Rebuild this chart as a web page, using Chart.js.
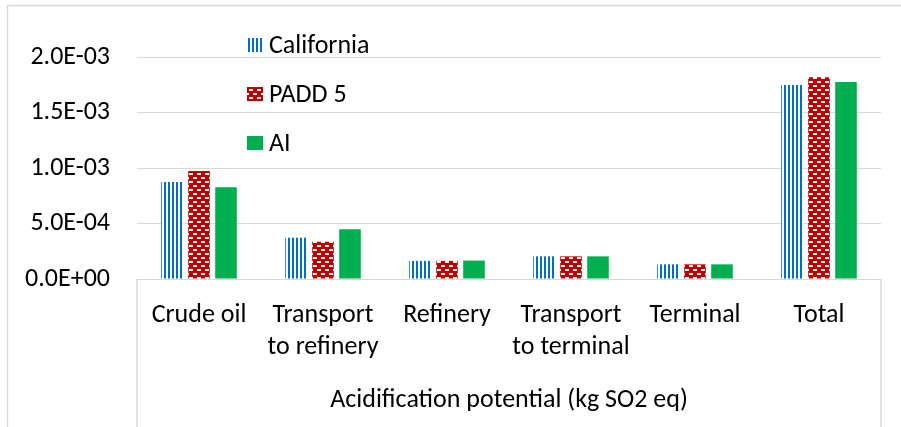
<!DOCTYPE html>
<html>
<head>
<meta charset="utf-8">
<script src="https://cdn.jsdelivr.net/npm/chart.js@4.4.1/dist/chart.umd.min.js"></script>
<style>
  html, body { margin: 0; padding: 0; background: #fff; }
  #wrap { position: relative; width: 901px; height: 427px; }
</style>
</head>
<body>
<div id="wrap"><canvas id="c" width="901" height="427"></canvas></div>
<script>
const categories = ["Crude oil", ["Transport", "to refinery"], "Refinery", ["Transport", "to terminal"], "Terminal", "Total"];
const seriesNames = ["California", "PADD 5", "AI"];
const california = [8.74e-4, 3.72e-4, 1.63e-4, 2.04e-4, 1.32e-4, 1.748e-3];
const padd5      = [9.73e-4, 3.36e-4, 1.63e-4, 2.04e-4, 1.32e-4, 1.817e-3];
const ai         = [8.26e-4, 4.48e-4, 1.66e-4, 2.04e-4, 1.32e-4, 1.775e-3];
const axisTitle = "Acidification potential (kg SO2 eq)";
const yMin = 0, yMax = 2.0e-3, yStep = 5.0e-4;

function makeStripes() {
  const c = document.createElement('canvas'); c.width = 4; c.height = 4;
  const g = c.getContext('2d');
  g.fillStyle = '#ffffff'; g.fillRect(0, 0, 4, 4);
  g.fillStyle = '#0070C0'; g.fillRect(0, 0, 2, 4);
  return g.createPattern(c, 'repeat');
}
function makeBricks() {
  const c = document.createElement('canvas'); c.width = 8; c.height = 8;
  const g = c.getContext('2d');
  g.fillStyle = '#C00000'; g.fillRect(0, 0, 8, 8);
  g.fillStyle = '#ffffff';
  g.fillRect(1, 1, 4, 2);
  g.fillRect(5, 5, 3, 2);
  g.fillRect(0, 5, 1, 2);
  return g.createPattern(c, 'repeat');
}
const fills = [makeStripes(), makeBricks(), '#00B050'];
const FONT = 'Carlito, Calibri, Lato, sans-serif';
const FSIZE = 26;

const boxPlugin = {
  id: 'boxPlugin',
  afterDraw(chart) {
    const { ctx, chartArea } = chart;
    ctx.save();
    ctx.strokeStyle = '#d9d9d9';
    ctx.lineWidth = 1.5;
    ctx.beginPath();
    // outer chart border (top & left)
    ctx.moveTo(7.5, 427); ctx.lineTo(7.5, 5.5); ctx.lineTo(901, 5.5);
    // category axis box sides
    ctx.moveTo(chartArea.left, chartArea.bottom); ctx.lineTo(chartArea.left, 427);
    ctx.moveTo(chartArea.right, chartArea.bottom); ctx.lineTo(chartArea.right, 427);
    ctx.stroke();
    // legend
    const ys = [45, 94, 143];
    ctx.font = FSIZE + 'px ' + FONT;
    ctx.textBaseline = 'middle';
    ctx.textAlign = 'left';
    chart.data.datasets.forEach((ds, i) => {
      ctx.fillStyle = ds.backgroundColor;
      ctx.fillRect(247, ys[i] - 7, 16, 14);
      ctx.fillStyle = '#000';
      ctx.fillText(ds.label, 269, ys[i] + 1);
    });
    ctx.restore();
  }
};

function fmtExp(v) {
  const s = Number(v).toExponential(1);
  const [m, e] = s.split('e');
  const sign = e[0] === '-' ? '-' : '+';
  const digits = e.replace(/[+-]/, '').padStart(2, '0');
  return m + 'E' + sign + digits;
}

new Chart(document.getElementById('c'), {
  type: 'bar',
  data: {
    labels: categories,
    datasets: [
      { label: seriesNames[0], data: california, backgroundColor: fills[0] },
      { label: seriesNames[1], data: padd5, backgroundColor: fills[1] },
      { label: seriesNames[2], data: ai, backgroundColor: fills[2] }
    ]
  },
  options: {
    responsive: false,
    animation: false,
    devicePixelRatio: 1,
    layout: { padding: { top: 57, right: 20, left: 0, bottom: 0 } },
    datasets: { bar: { categoryPercentage: 0.653, barPercentage: 0.8 } },
    plugins: { legend: { display: false }, tooltip: { enabled: false } },
    scales: {
      x: {
        grid: { display: false, drawTicks: false },
        border: { display: false },
        ticks: { color: '#000', font: { family: FONT, size: FSIZE, lineHeight: 1.23 }, padding: 21, maxRotation: 0, autoSkip: false },
        title: { display: true, text: axisTitle, color: '#000', font: { family: FONT, size: FSIZE, lineHeight: 1.2 }, padding: { top: 0, bottom: 11 } },
        afterFit(s) { s.height = 148; }
      },
      y: {
        min: yMin, max: yMax,
        grid: { color: '#d9d9d9', lineWidth: 1, drawTicks: false },
        border: { display: false },
        ticks: { stepSize: yStep, color: '#000', font: { family: FONT, size: FSIZE }, padding: 27, callback: (v) => fmtExp(v) },
        afterFit(s) { s.width = 137; }
      }
    }
  },
  plugins: [boxPlugin]
});
</script>
</body>
</html>
